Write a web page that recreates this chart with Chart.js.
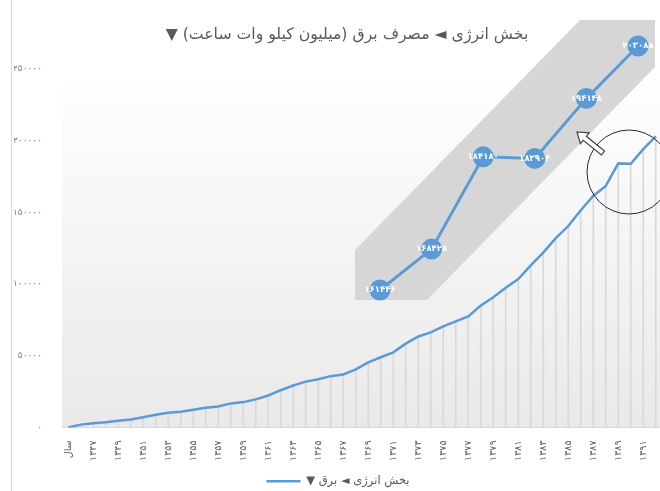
<!DOCTYPE html>
<html lang="fa">
<head>
<meta charset="utf-8">
<title>مصرف برق</title>
<script src="https://cdn.jsdelivr.net/npm/chart.js@4.4.1/dist/chart.umd.min.js"></script>
<style>
  html, body { margin: 0; padding: 0; background: #fff; }
  body { width: 660px; height: 491px; overflow: hidden; position: relative; }
  #main-wrap { position: absolute; left: 0; top: 0; width: 662px; height: 491px; }
  #inset-wrap { position: absolute; left: 355px; top: 0; width: 305px; height: 330px; }
</style>
</head>
<body>
<div id="main-wrap"><canvas id="main" width="662" height="491" dir="rtl"></canvas></div>
<div id="inset-wrap"><canvas id="inset" width="305" height="330" dir="rtl"></canvas></div>

<script>
// ---- data ----
const years = [
  'سال',
  '۱۳۴۶', '۱۳۴۷', '۱۳۴۸', '۱۳۴۹', '۱۳۵۰', '۱۳۵۱', '۱۳۵۲', '۱۳۵۳', '۱۳۵۴', '۱۳۵۵',
  '۱۳۵۶', '۱۳۵۷', '۱۳۵۸', '۱۳۵۹', '۱۳۶۰', '۱۳۶۱', '۱۳۶۲', '۱۳۶۳', '۱۳۶۴', '۱۳۶۵',
  '۱۳۶۶', '۱۳۶۷', '۱۳۶۸', '۱۳۶۹', '۱۳۷۰', '۱۳۷۱', '۱۳۷۲', '۱۳۷۳', '۱۳۷۴', '۱۳۷۵',
  '۱۳۷۶', '۱۳۷۷', '۱۳۷۸', '۱۳۷۹', '۱۳۸۰', '۱۳۸۱', '۱۳۸۲', '۱۳۸۳', '۱۳۸۴', '۱۳۸۵',
  '۱۳۸۶', '۱۳۸۷', '۱۳۸۸', '۱۳۸۹', '۱۳۹۰', '۱۳۹۱', '۱۳۹۲'
];

// electricity consumption, million kWh
const consumption = [
  0, 2000, 3000, 3700, 4700, 5600, 7200, 8900, 10300, 11000,
  12400, 13800, 14700, 16800, 17700, 19600, 22300, 26000, 29300, 32000,
  33600, 35800, 37000, 40500, 45400, 49000, 52400, 58500, 63500, 66300,
  70500, 74000, 77500, 85000, 90800, 97500, 103500, 113000, 122000, 132000,
  140500, 151500, 161446, 168428, 184180, 183904, 194148, 203088
];

const yTickLabels = ['۰', '۵۰۰۰۰', '۱۰۰۰۰۰', '۱۵۰۰۰۰', '۲۰۰۰۰۰', '۲۵۰۰۰۰'];

// last six years, shown enlarged
const insetYears = ['۱۳۸۷', '۱۳۸۸', '۱۳۸۹', '۱۳۹۰', '۱۳۹۱', '۱۳۹۲'];
const insetValues = [161446, 168428, 184180, 183904, 194148, 203088];

const titleText = 'بخش انرژی ◄ مصرف برق (میلیون کیلو وات ساعت) ▼';
const seriesName = 'بخش انرژی ◄ برق ▼';

// ---- helpers ----
const BLUE = '#5b9bd5';
const FONT = '"DejaVu Sans", sans-serif';
Chart.defaults.font.family = FONT;

const toFa = (n) => String(n).replace(/\d/g, d => '۰۱۲۳۴۵۶۷۸۹'[d]);

// gradient plot background, left frame line and the heading
const mainDecor = {
  id: 'mainDecor',
  beforeDraw(chart) {
    const { ctx, chartArea: a } = chart;
    ctx.save();
    ctx.fillStyle = '#fff';
    ctx.fillRect(0, 0, chart.width, chart.height);
    const g = ctx.createLinearGradient(0, a.top, 0, a.bottom);
    g.addColorStop(0, '#ffffff');
    g.addColorStop(1, '#e9e9e9');
    ctx.fillStyle = g;
    ctx.fillRect(a.left, a.top, a.right - a.left, a.bottom - a.top);
    ctx.strokeStyle = '#d6d6d6';
    ctx.lineWidth = 1;
    ctx.beginPath();
    ctx.moveTo(11.5, 0);
    ctx.lineTo(11.5, chart.height);
    ctx.stroke();
    ctx.restore();
  },
  afterDraw(chart) {
    const { ctx } = chart;
    ctx.save();
    ctx.font = '15.7px ' + FONT;
    ctx.fillStyle = '#595959';
    ctx.textAlign = 'center';
    ctx.textBaseline = 'middle';
    ctx.fillText(titleText, 347, 35);
    ctx.restore();
  }
};

new Chart(document.getElementById('main'), {
  type: 'line',
  data: {
    labels: years,
    datasets: [
      {
        label: seriesName,
        data: consumption,
        borderColor: BLUE,
        borderWidth: 2.5,
        pointRadius: 0,
        tension: 0,
        order: 0
      },
      {
        // drop lines from each point to the axis
        type: 'bar',
        label: 'drop',
        data: consumption,
        backgroundColor: '#d9d9d9',
        barThickness: 1,
        order: 1
      }
    ]
  },
  options: {
    responsive: false,
    animation: false,
    events: [],
    layout: { padding: { top: 69, left: 14, right: 0, bottom: -6 } },
    scales: {
      x: {
        offset: true,
        grid: { display: false },
        border: { display: true, color: '#d9d9d9' },
        afterFit: (s) => {
          s.height = 43;
          s.paddingLeft = 0;
          s.paddingRight = 0;
        },
        ticks: {
          autoSkip: false,
          minRotation: 90,
          maxRotation: 90,
          padding: 5,
          color: '#595959',
          font: { size: 9.5 },
          callback: function (value, index) {
            return index % 2 === 0 ? this.getLabelForValue(value) : '';
          }
        }
      },
      y: {
        min: 0,
        max: 250000,
        grid: { display: false },
        border: { display: false },
        afterFit: (s) => { s.width = 48; },
        ticks: {
          stepSize: 50000,
          padding: 12,
          color: '#7f7f7f',
          font: { size: 9 },
          callback: (v) => yTickLabels[v / 50000]
        }
      }
    },
    plugins: {
      legend: {
        position: 'bottom',
        labels: {
          filter: (item) => item.datasetIndex === 0,
          usePointStyle: true,
          pointStyle: 'line',
          pointStyleWidth: 34,
          padding: 5,
          color: '#595959',
          font: { size: 11.5 }
        }
      },
      tooltip: { enabled: false }
    }
  },
  plugins: [mainDecor]
});

// ---- enlarged view of the last six years ----
const INSET_LEFT = 355;

function drawArrow(ctx, tail, tip) {
  const dx = tip[0] - tail[0], dy = tip[1] - tail[1];
  const len = Math.hypot(dx, dy);
  const ux = dx / len, uy = dy / len;
  const nx = -uy, ny = ux;
  const headLen = 10, headW = 7, shaftW = 2.5;
  const bx = tip[0] - ux * headLen, by = tip[1] - uy * headLen;
  ctx.beginPath();
  ctx.moveTo(tip[0], tip[1]);
  ctx.lineTo(bx + nx * headW, by + ny * headW);
  ctx.lineTo(bx + nx * shaftW, by + ny * shaftW);
  ctx.lineTo(tail[0] + nx * shaftW, tail[1] + ny * shaftW);
  ctx.lineTo(tail[0] - nx * shaftW, tail[1] - ny * shaftW);
  ctx.lineTo(bx - nx * shaftW, by - ny * shaftW);
  ctx.lineTo(bx - nx * headW, by - ny * headW);
  ctx.closePath();
  ctx.fillStyle = '#fff';
  ctx.fill();
  ctx.strokeStyle = '#404040';
  ctx.lineWidth = 1.2;
  ctx.stroke();
}

const insetDecor = {
  id: 'insetDecor',
  beforeDraw(chart) {
    const { ctx } = chart;
    ctx.save();
    ctx.translate(-INSET_LEFT, 0);
    ctx.fillStyle = '#d6d6d6';
    ctx.beginPath();
    ctx.moveTo(355, 250);
    ctx.lineTo(580, 20);
    ctx.lineTo(655, 20);
    ctx.lineTo(655, 67);
    ctx.lineTo(427, 300);
    ctx.lineTo(355, 300);
    ctx.closePath();
    ctx.fill();
    ctx.restore();
  },
  afterDatasetsDraw(chart) {
    const { ctx } = chart;
    const meta = chart.getDatasetMeta(0);
    ctx.save();
    ctx.font = 'bold 8.5px ' + FONT;
    ctx.fillStyle = '#fff';
    ctx.textAlign = 'center';
    ctx.textBaseline = 'middle';
    meta.data.forEach((pt, i) => {
      ctx.fillText(toFa(chart.data.datasets[0].data[i]), pt.x, pt.y);
    });
    ctx.restore();
  },
  afterDraw(chart) {
    const { ctx } = chart;
    ctx.save();
    ctx.translate(-INSET_LEFT, 0);
    ctx.strokeStyle = '#2b2b2b';
    ctx.lineWidth = 1;
    ctx.beginPath();
    ctx.arc(629, 172, 42, 0, Math.PI * 2);
    ctx.stroke();
    drawArrow(ctx, [603, 153], [577, 132]);
    ctx.restore();
  }
};

new Chart(document.getElementById('inset'), {
  type: 'line',
  data: {
    labels: insetYears,
    datasets: [{
      data: insetValues,
      borderColor: BLUE,
      borderWidth: 3,
      pointRadius: 10.5,
      pointHoverRadius: 10.5,
      pointBackgroundColor: BLUE,
      pointBorderWidth: 0,
      tension: 0,
      clip: false
    }]
  },
  options: {
    responsive: false,
    animation: false,
    events: [],
    layout: { padding: { left: 25, right: 22, top: 34.8, bottom: 31.5 } },
    scales: {
      x: { display: false },
      y: { display: false, min: 160000, max: 205000 }
    },
    plugins: {
      legend: { display: false },
      tooltip: { enabled: false }
    }
  },
  plugins: [insetDecor]
});
</script>
</body>
</html>
